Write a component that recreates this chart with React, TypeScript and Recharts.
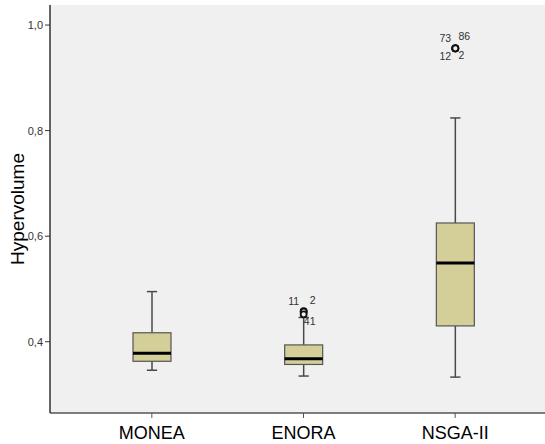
import { ComposedChart, Bar, XAxis, YAxis, CartesianGrid } from 'recharts'

const CATEGORIES = ['MONEA', 'ENORA', 'NSGA-II']
const MINS = [0.346, 0.335, 0.333]
const Q1S = [0.363, 0.357, 0.43]
const MEDIANS = [0.378, 0.368, 0.549]
const Q3S = [0.417, 0.394, 0.625]
const MAXES = [0.495, 0.446, 0.824]

const OUTLIER_CATS = ['ENORA', 'ENORA', 'ENORA', 'NSGA-II', 'NSGA-II', 'NSGA-II', 'NSGA-II']
const OUTLIER_VALUES = [0.458, 0.457, 0.452, 0.956, 0.956, 0.956, 0.956]
const OUTLIER_IDS = ['11', '2', '41', '73', '86', '12', '2']
const OUTLIER_SPOTS = ['ul', 'ur', 'lr', 'ul', 'ur', 'll', 'lr']

const Y_TICKS = [0.4, 0.6, 0.8, 1.0]

// label offsets around an outlier circle (SPSS style)
const SPOT_OFFSETS: Record<string, [number, number]> = {
  ul: [-10, -6],
  ur: [9, -8],
  ll: [-10, 12],
  lr: [6, 11],
}

const data = CATEGORIES.map((name, i) => ({
  name,
  range: [MINS[i], MAXES[i]],
  min: MINS[i],
  q1: Q1S[i],
  median: MEDIANS[i],
  q3: Q3S[i],
  max: MAXES[i],
  outliers: OUTLIER_VALUES.map((v, j) => ({ v, id: OUTLIER_IDS[j], spot: OUTLIER_SPOTS[j], cat: OUTLIER_CATS[j] })).filter(
    (o) => o.cat === name
  ),
}))

const FONT = '"Liberation Sans", Arial, sans-serif'

function BoxShape(props: any) {
  const { x, y, width, height, payload } = props
  const top = Math.min(y, y + height)
  const bottom = Math.max(y, y + height)
  const { min, max, q1, median, q3, outliers } = payload
  const pix = (v: number) => bottom - ((v - min) / (max - min)) * (bottom - top)
  const cx = x + width / 2
  const cap = width * 0.27
  const stroke = '#4a4a4a'
  return (
    <g>
      <line x1={cx} x2={cx} y1={pix(max)} y2={pix(q3)} stroke={stroke} strokeWidth={1.5} />
      <line x1={cx} x2={cx} y1={pix(q1)} y2={pix(min)} stroke={stroke} strokeWidth={1.5} />
      <line x1={cx - cap / 2} x2={cx + cap / 2} y1={pix(max)} y2={pix(max)} stroke={stroke} strokeWidth={1.5} />
      <line x1={cx - cap / 2} x2={cx + cap / 2} y1={pix(min)} y2={pix(min)} stroke={stroke} strokeWidth={1.5} />
      <rect x={x} y={pix(q3)} width={width} height={pix(q1) - pix(q3)} fill="#d4cf98" stroke="#555" strokeWidth={1.2} />
      <line x1={x} x2={x + width} y1={pix(median)} y2={pix(median)} stroke="#000" strokeWidth={3} />
      {outliers.map((o: any, k: number) => {
        const oy = pix(o.v)
        const [dx, dy] = SPOT_OFFSETS[o.spot]
        return (
          <g key={k}>
            <circle cx={cx} cy={oy} r={3} fill="#f0f0f0" stroke="#111" strokeWidth={1.8} />
            <text
              x={cx + dx}
              y={oy + dy}
              textAnchor="middle"
              fontSize={10.5}
              fontFamily={FONT}
              fill="#333"
            >
              {o.id}
            </text>
          </g>
        )
      })}
    </g>
  )
}

export default function App() {
  return (
    <div style={{ position: 'absolute', left: 0, top: 0, width: 545, height: 444, background: '#fff' }}>
      <ComposedChart
        width={545}
        height={444}
        data={data}
        margin={{ top: 5, right: 0, bottom: 0, left: 0 }}
      >
        <CartesianGrid horizontal={false} vertical={false} fill="#f0f0f0" />
        <XAxis
          dataKey="name"
          type="category"
          padding={{ left: 26, right: 14 }}
          height={31}
          tickSize={5}
          tickMargin={8}
          tick={{ fontSize: 18, fill: '#000', fontFamily: FONT }}
          axisLine={{ stroke: '#555', strokeWidth: 1.5 }}
          tickLine={{ stroke: '#555' }}
        />
        <XAxis xAxisId="top" orientation="top" height={0} tick={false} tickLine={false} axisLine={{ stroke: '#222', strokeWidth: 1.5 }} />
        <YAxis
          type="number"
          domain={[0.265, 1.038]}
          ticks={Y_TICKS}
          width={50}
          tickSize={5}
          tickMargin={2}
          tickFormatter={(v: number) => v.toFixed(1).replace('.', ',')}
          tick={{ fontSize: 11, fill: '#333', fontFamily: FONT }}
          axisLine={{ stroke: '#333', strokeWidth: 1.5 }}
          tickLine={{ stroke: '#333' }}
          label={{
            value: 'Hypervolume',
            angle: -90,
            position: 'insideLeft',
            offset: 17,
            style: { fontSize: 19, fill: '#000', fontFamily: FONT, textAnchor: 'middle' },
          }}
        />
        <Bar dataKey="range" barSize={38} shape={<BoxShape />} isAnimationActive={false} />
      </ComposedChart>
    </div>
  )
}
